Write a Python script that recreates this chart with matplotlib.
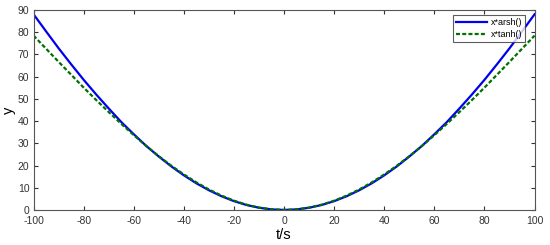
import matplotlib
matplotlib.use("Agg")
import matplotlib.pyplot as plt

plt.rcParams['font.family'] = ['Liberation Sans', 'DejaVu Sans']
plt.rcParams['axes.unicode_minus'] = False

t_values = [-100, -95, -90, -85, -80, -75, -70, -65, -60, -55, -50, -45, -40, -35, -30, -25, -20, -15, -10, -5, 0,
            5, 10, 15, 20, 25, 30, 35, 40, 45, 50, 55, 60, 65, 70, 75, 80, 85, 90, 95, 100]
arsh_half = [0.0, 0.25, 1.0, 2.24, 3.97, 6.19, 8.87, 12.0, 15.6, 19.6, 24.06,
             28.8, 34.1, 39.6, 45.7, 52.0, 58.6, 65.6, 72.8, 80.4, 88.1]
tanh_half = [0.0, 0.26, 1.05, 2.36, 4.17, 6.47, 9.22, 12.4, 16.0, 19.9, 24.2,
             28.8, 33.7, 38.8, 44.1, 49.5, 55.1, 60.9, 66.7, 72.6, 78.5]
y_arsh = arsh_half[::-1] + arsh_half[1:]
y_tanh = tanh_half[::-1] + tanh_half[1:]
labels = ["x*arsh()", "x*tanh()"]
x_ticks = list(range(-100, 101, 20))
y_ticks = list(range(0, 91, 10))

fig = plt.figure(figsize=(5.5, 2.45), dpi=100)
ax = fig.add_axes([0.061, 0.143, 0.911, 0.816])
ax.plot(t_values, y_arsh, color="#0000ee", lw=1.6, label=labels[0])
ax.plot(t_values, y_tanh, color="#007000", lw=1.6, ls=(0, (1.8, 1.0)), label=labels[1])
ax.set_xlim(-100, 100)
ax.set_ylim(0, 90)
ax.set_xticks(x_ticks)
ax.set_yticks(y_ticks)
ax.tick_params(direction="in", top=True, right=True, length=3, width=0.8,
               labelsize=7.5, colors="#333333")
ax.tick_params(axis="x", pad=4)
ax.tick_params(axis="y", pad=3)
for s in ax.spines.values():
    s.set_color("#555555")
    s.set_linewidth(0.8)
ax.set_xlabel("t/s", fontsize=10.5, labelpad=2)
ax.set_ylabel("y", fontsize=10.5, labelpad=1)
leg = ax.legend(loc="upper right", fontsize=6.5, frameon=True, fancybox=False,
                handlelength=3.5, borderpad=0.3, labelspacing=0.3,
                borderaxespad=0.6, handletextpad=0.4, bbox_to_anchor=(0.992, 1.0))
leg.get_frame().set_edgecolor("#333333")
leg.get_frame().set_linewidth(0.8)
fig.savefig("out.png", dpi=100)
